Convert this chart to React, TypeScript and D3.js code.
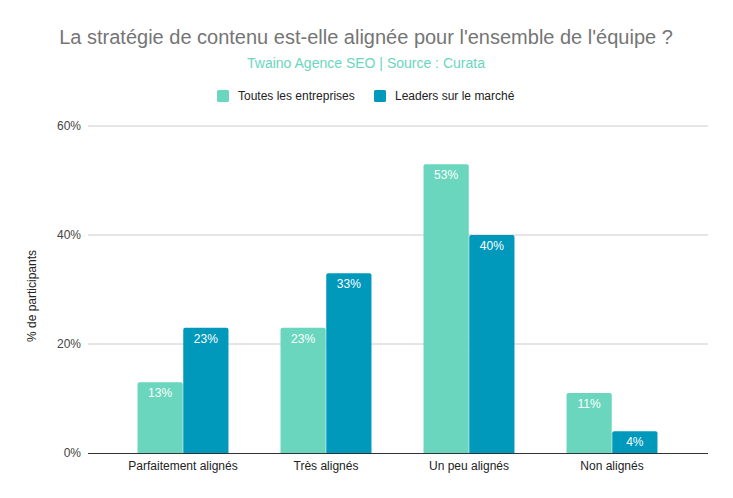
import React from "react";
import * as d3 from "d3";

const categories = ["Parfaitement alignés", "Très alignés", "Un peu alignés", "Non alignés"];
const seriesNames = ["Toutes les entreprises", "Leaders sur le marché"];
const allCompanies = [13, 23, 53, 11];
const leaders = [23, 33, 40, 4];
const yTicks = [0, 20, 40, 60];
const title = "La stratégie de contenu est-elle alignée pour l'ensemble de l'équipe ?";
const subtitle = "Twaino Agence SEO | Source : Curata";
const yTitle = "% de participants";

const W = 733;
const H = 498;
const colors = ["#6ad6be", "#0099bc"];
const FONT = "'Liberation Sans', Arial, sans-serif";

function topRoundedRect(x: number, y: number, w: number, h: number, r: number) {
  const rr = Math.min(r, h, w / 2);
  return `M${x},${y + h}V${y + rr}Q${x},${y} ${x + rr},${y}H${x + w - rr}Q${x + w},${y} ${x + w},${y + rr}V${y + h}Z`;
}

export default function App() {
  const plotLeft = 88;
  const plotRight = 708;
  const y = d3.scaleLinear().domain([0, 60]).range([453, 126]);
  const x = d3
    .scaleBand<string>()
    .domain(categories)
    .range([111.5, 683.5])
    .paddingInner(0.364)
    .paddingOuter(0.182);
  const inner = d3.scaleBand<number>().domain([0, 1]).range([0, x.bandwidth()]).paddingInner(0.011);
  const series = [allCompanies, leaders];

  return (
    <svg
      width={W}
      height={H}
      style={{ position: "absolute", left: 0, top: 0, background: "#fff" }}
      fontFamily={FONT}
    >
      <rect width={W} height={H} fill="#fff" />
      <text x={366} y={44} textAnchor="middle" fontSize={20} fill="#757575">
        {title}
      </text>
      <text x={366} y={68} textAnchor="middle" fontSize={14} fill={colors[0]}>
        {subtitle}
      </text>
      {/* legend */}
      {seriesNames.map((name, i) => {
        const lx = i === 0 ? 217 : 374;
        return (
          <g key={name}>
            <rect x={lx} y={90} width={12} height={12} rx={1.5} fill={colors[i]} />
            <text x={lx + 21} y={100} fontSize={12} fill="#222">
              {name}
            </text>
          </g>
        );
      })}
      {/* gridlines */}
      {yTicks.map((t) => (
        <g key={t}>
          {t !== 0 && (
            <line x1={plotLeft} x2={plotRight} y1={y(t)} y2={y(t)} stroke="#cccccc" strokeWidth={1} />
          )}
          <text x={81} y={y(t) + 4} textAnchor="end" fontSize={12} fill="#444">
            {t}%
          </text>
        </g>
      ))}
      <text
        transform={`translate(36,296) rotate(-90)`}
        textAnchor="middle"
        fontSize={12}
        fill="#222"
      >
        {yTitle}
      </text>
      {/* bars */}
      {categories.map((c, ci) =>
        series.map((s, si) => {
          const bx = (x(c) as number) + (inner(si) as number);
          const bw = inner.bandwidth();
          const by = y(s[ci]);
          const bh = y(0) - by;
          return (
            <g key={c + si}>
              <path d={topRoundedRect(bx, by, bw, bh, 2)} fill={colors[si]} />
              <text x={bx + bw / 2} y={by + 15} textAnchor="middle" fontSize={12} fill="#fff">
                {s[ci]}%
              </text>
            </g>
          );
        })
      )}
      <line x1={plotLeft} x2={plotRight} y1={y(0) + 0.5} y2={y(0) + 0.5} stroke="#333" strokeWidth={1} />
      {categories.map((c) => (
        <text
          key={c}
          x={(x(c) as number) + x.bandwidth() / 2}
          y={470}
          textAnchor="middle"
          fontSize={12}
          fill="#222"
        >
          {c}
        </text>
      ))}
    </svg>
  );
}
